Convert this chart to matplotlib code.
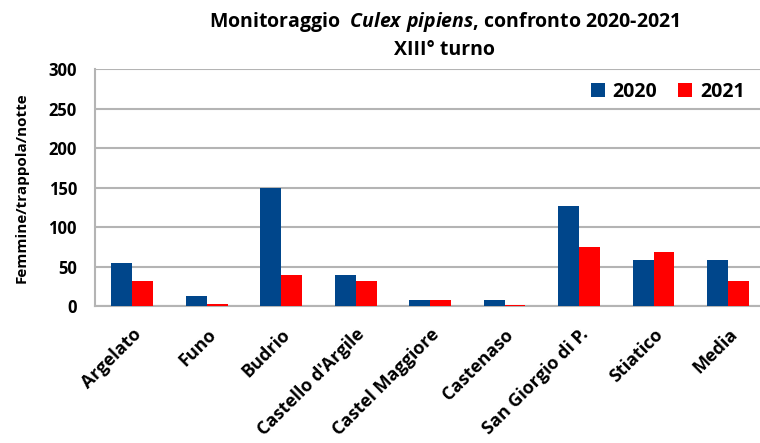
import matplotlib
matplotlib.use("Agg")
import matplotlib.pyplot as plt
import numpy as np

# dati
siti = ["Argelato", "Funo", "Budrio", "Castello d'Argile", "Castel Maggiore",
        "Castenaso", "San Giorgio di P.", "Stiatico", "Media"]
val_2020 = [54, 13, 149, 39, 8, 8, 127, 58, 58]
val_2021 = [32, 3, 39, 32, 8, 1, 75, 68, 32]
anni = ["2020", "2021"]

font = "Open Sans"
plt.rcParams["font.family"] = [font, "DejaVu Sans"]
plt.rcParams["font.weight"] = "bold"
plt.rcParams["mathtext.fontset"] = "custom"
plt.rcParams["mathtext.rm"] = font + ":bold"
plt.rcParams["mathtext.it"] = font + ":italic:bold"

blu = "#00468B"
rosso = "#FF0000"
griglia = "#B4B4B4"

fig = plt.figure(figsize=(7.6, 4.43), dpi=100)
ax = fig.add_axes([0.125, 0.309, 0.882, 0.535])

x = np.arange(len(siti))
w = 0.28
ax.bar(x - w / 2, val_2020, w, color=blu, label=anni[0], zorder=3)
ax.bar(x + w / 2, val_2021, w, color=rosso, label=anni[1], zorder=3)

ax.set_xlim(-0.5, len(siti) - 0.5)
ax.set_ylim(0, 300)
ax.set_yticks(np.arange(0, 301, 50))
ax.yaxis.grid(True, color=griglia, linewidth=1.5, zorder=0)
ax.tick_params(axis="both", length=0)
ax.tick_params(axis="y", pad=13, labelsize=12)

for s in ["top", "right"]:
    ax.spines[s].set_visible(False)
for s in ["left", "bottom"]:
    ax.spines[s].set_color(griglia)
    ax.spines[s].set_linewidth(1.5)

ax.set_xticks(x)
ax.set_xticklabels(siti, rotation=45, ha="right", rotation_mode="anchor",
                   fontsize=13, fontweight="bold")
ax.tick_params(axis="x", pad=14)

ax.set_ylabel("Femmine/trappola/notte", fontsize=11, fontweight="bold", labelpad=14)

fig.text(0.585, 0.95, r"Monitoraggio  $\it{Culex\ pipiens}$, confronto 2020-2021",
         ha="center", va="center", fontsize=14, fontweight="bold")
fig.text(0.585, 0.887, "XIII° turno", ha="center", va="center",
         fontsize=14, fontweight="bold")

ax.legend(loc="upper right", frameon=False, fontsize=14, ncol=2,
          handlelength=0.7, handleheight=0.7, columnspacing=1.1,
          handletextpad=0.4, bbox_to_anchor=(0.995, 1.02))

fig.savefig("out.png", dpi=100)
